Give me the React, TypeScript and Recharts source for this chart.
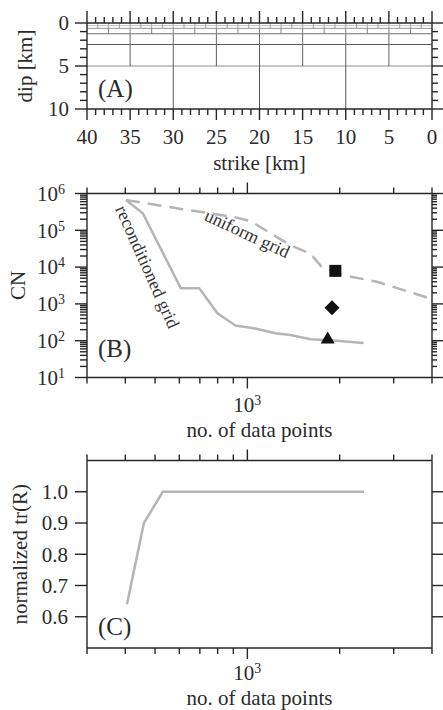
import React from 'react';
import { ComposedChart, Line, Scatter, XAxis, YAxis } from 'recharts';

const FONT = '"Liberation Serif", "Times New Roman", serif';
const INK = '#262626';
const TEXT = '#2b2b2b';
const CURVE = '#b5b5b5';

// (A) fault mesh: row boundaries in depth, and the patch width used in each row
const meshDepths = [0, 0.3125, 0.625, 1.25, 2.5, 5, 10];
const meshPatchWidths = [1.25, 1.25, 2.5, 5, 5, 10];
const strikeLength = 40;
const strikeMajorTicks = [0, 5, 10, 15, 20, 25, 30, 35, 40];
const dipMajorTicks = [0, 5, 10];

// (B) condition number vs. number of data points
const uniformPoints = [402, 607, 904, 1025, 1383, 1607, 1753, 2061, 2646, 4000];
const uniformCN = [6.7e5, 3.8e5, 2.3e5, 1.77e5, 3.9e4, 2.3e4, 9.8e3, 6.0e3, 4.0e3, 1.35e3];
const reconPoints = [402, 456, 607, 697, 799, 916, 1051, 1236, 1383, 1607, 1820, 2393];
const reconCN = [6.7e5, 2.9e5, 2.65e3, 2.65e3, 556, 256, 217, 159, 143, 109, 104, 86];
const markerPoints = [1936, 1888, 1828];
const markerCN = [7900, 790, 115];
const markerKinds = ['square', 'diamond', 'triangle'];
const noteTexts = ['uniform grid', 'reconditioned grid'];
const notePoints = [1000, 473];
const noteCN = [8.3e4, 1.03e4];

// (C) normalized trace of the resolution matrix
const tracePoints = [405, 460, 530, 2400];
const traceR = [0.64, 0.9, 1.0, 1.0];

const pointTicks = [300, 400, 500, 600, 700, 800, 900, 1000, 2000, 3000, 4000];
const pointMajorTicks = [1000];
const cnMajorTicks = [10, 100, 1e3, 1e4, 1e5, 1e6];
const traceTicks = [0.6, 0.7, 0.8, 0.9, 1.0];

const intRange = (a: number, b: number) => Array.from({ length: b - a + 1 }, (_, i) => a + i);
const strikeTicks = intRange(0, strikeLength);
const dipTicks = intRange(0, 10);
const cnTicks = cnMajorTicks.flatMap((m, i) =>
  i === cnMajorTicks.length - 1 ? [m] : intRange(1, 9).map((k) => k * m),
);

const uniformData = uniformPoints.map((n, i) => ({ n, cn: uniformCN[i] }));
const reconData = reconPoints.map((n, i) => ({ n, cn: reconCN[i] }));
const traceData = tracePoints.map((n, i) => ({ n, r: traceR[i] }));

const meshRows = meshPatchWidths.map((w, i) => ({ w, top: meshDepths[i], bottom: meshDepths[i + 1] }));
const meshHorizontal = meshDepths.slice(1, -1).map((d) => [
  { s: 0, d },
  { s: strikeLength, d },
]);
const meshVertical = meshRows.map((row) =>
  intRange(1, Math.round(strikeLength / row.w) - 1).map((k) => [
    { s: k * row.w, d: row.top },
    { s: k * row.w, d: row.bottom },
  ]),
);

const meshRowStroke = ['#a8a8a8', '#a0a0a0', '#808080', '#6a6a6a', '#606060', '#555'];
const meshDepthStroke = ['#c4c4c4', '#999', '#707070', '#5a5a5a', '#b4b4b4'];

const axisLine = { stroke: INK, strokeWidth: 1.4 };
const TICK_W = 1.4;

const isIn = (list: number[], v: number) =>
  list.some((m) => Math.abs(m - v) <= Math.abs(m) * 1e-6 + 1e-9);

interface TickOpts {
  side: 'top' | 'bottom' | 'left' | 'right';
  majors: number[];
  label?: (v: number) => React.ReactNode;
  majorLen?: number;
  minorLen?: number;
  offset?: number;
}

// tick marks are drawn as thin filled rects (plain strokes were dropped on the y axes)
function makeTick({ side, majors, label, majorLen = 11, minorLen = 6, offset = 0 }: TickOpts) {
  return function Tick(props: any) {
    const x = Number(props.x);
    const y = Number(props.y);
    const v = Number(props.payload?.value);
    const major = isIn(majors, v);
    const len = major ? majorLen : minorLen;
    let mark: React.ReactNode;
    if (side === 'left') mark = <rect x={x - len} y={y - TICK_W / 2} width={len} height={TICK_W} fill={INK} />;
    else if (side === 'right') mark = <rect x={x} y={y - TICK_W / 2} width={len} height={TICK_W} fill={INK} />;
    else if (side === 'top') mark = <rect x={x - TICK_W / 2} y={y - len} width={TICK_W} height={len} fill={INK} />;
    else mark = <rect x={x - TICK_W / 2} y={y} width={TICK_W} height={len} fill={INK} />;

    let text: React.ReactNode = null;
    if (major && label) {
      if (side === 'bottom') {
        text = (
          <text x={x} y={y + offset} textAnchor="middle" fontSize={21} fontFamily={FONT} fill={TEXT}>
            {label(v)}
          </text>
        );
      } else if (side === 'left') {
        text = (
          <text x={x - offset} y={y} dy="0.35em" textAnchor="end" fontSize={21} fontFamily={FONT} fill={TEXT}>
            {label(v)}
          </text>
        );
      }
    }
    return (
      <g>
        {mark}
        {text}
      </g>
    );
  };
}

const pow10 = (v: number) => (
  <>
    <tspan>10</tspan>
    <tspan dy="-0.5em" fontSize={14}>
      {Math.round(Math.log10(v))}
    </tspan>
  </>
);

function xTitle(text: string, below: number) {
  return (props: any) => {
    const vb = props.viewBox ?? { x: 87, y: 0, width: 345, height: 0 };
    return (
      <text x={vb.x + vb.width / 2} y={vb.y + below} textAnchor="middle" fontSize={21} fontFamily={FONT} fill={TEXT}>
        {text}
      </text>
    );
  };
}

function yTitle(text: string, baseX: number, tag: string, tagUp: number) {
  return (props: any) => {
    const vb = props.viewBox ?? { x: 0, y: 0, width: 87, height: 0 };
    const cy = vb.y + vb.height / 2;
    return (
      <g>
        <text
          x={baseX}
          y={cy}
          textAnchor="middle"
          transform={`rotate(-90 ${baseX} ${cy})`}
          fontSize={21}
          fontFamily={FONT}
          fill={TEXT}
        >
          {text}
        </text>
        <text x={vb.x + vb.width + 11} y={vb.y + vb.height - tagUp} fontSize={25} fontFamily={FONT} fill={TEXT}>
          {tag}
        </text>
      </g>
    );
  };
}

const markerShape = (kind: string) => (p: any) => {
  const { cx, cy } = p;
  if (kind === 'square') return <rect x={cx - 6} y={cy - 6} width={12} height={12} fill="#111" />;
  if (kind === 'diamond')
    return <polygon points={`${cx},${cy - 7.5} ${cx + 7.5},${cy} ${cx},${cy + 7.5} ${cx - 7.5},${cy}`} fill="#111" />;
  return <polygon points={`${cx},${cy - 7} ${cx + 7},${cy + 5} ${cx - 7},${cy + 5}`} fill="#111" />;
};

const noteShape = (text: string, angle: number) => (p: any) => (
  <text
    x={p.cx}
    y={p.cy}
    dy="0.35em"
    textAnchor="middle"
    transform={`rotate(${angle} ${p.cx} ${p.cy})`}
    fontSize={18}
    fontFamily={FONT}
    fill="#333"
  >
    {text}
  </text>
);

// shared axis props: ticks are drawn entirely by makeTick
const bare = { interval: 0 as const, tickSize: 0, tickMargin: 0, tickLine: false, axisLine, allowDataOverflow: true };

function MeshPanel() {
  return (
    <ComposedChart
      width={443}
      height={180}
      margin={{ top: 0, right: 0, bottom: 0, left: 0 }}
      data={meshHorizontal.flat()}
    >
      <XAxis
        xAxisId="b"
        dataKey="s"
        type="number"
        domain={[0, strikeLength]}
        reversed
        ticks={strikeTicks}
        {...bare}
        height={71}
        tick={makeTick({ side: 'bottom', majors: strikeMajorTicks, label: (v) => v, offset: 35 })}
        label={xTitle('strike [km]', 61)}
      />
      <XAxis
        xAxisId="t"
        orientation="top"
        dataKey="s"
        type="number"
        domain={[0, strikeLength]}
        reversed
        ticks={strikeTicks}
        {...bare}
        height={23}
        tick={makeTick({ side: 'top', majors: strikeMajorTicks, majorLen: 12 })}
      />
      <YAxis
        yAxisId="l"
        dataKey="d"
        type="number"
        domain={[0, 10]}
        reversed
        ticks={dipTicks}
        {...bare}
        width={87}
        tick={makeTick({ side: 'left', majors: dipMajorTicks, label: (v) => v, offset: 18, majorLen: 12, minorLen: 7 })}
        label={yTitle('dip [km]', 32, '(A)', 12)}
      />
      <YAxis
        yAxisId="r"
        orientation="right"
        dataKey="d"
        type="number"
        domain={[0, 10]}
        reversed
        ticks={dipTicks}
        {...bare}
        width={11}
        tick={makeTick({ side: 'right', majors: dipMajorTicks, majorLen: 11, minorLen: 6 })}
      />
      {meshHorizontal.map((seg, i) => (
        <Line
          key={`h${i}`}
          xAxisId="b"
          yAxisId="l"
          data={seg}
          dataKey="d"
          type="linear"
          stroke={meshDepthStroke[i]}
          strokeWidth={seg[0].d === 5 ? 1.6 : 1}
          dot={false}
          isAnimationActive={false}
        />
      ))}
      {meshVertical.flatMap((row, ri) =>
        row.map((seg, k) => (
          <Line
            key={`v${ri}-${k}`}
            xAxisId="t"
            yAxisId="r"
            data={seg}
            dataKey="d"
            type="linear"
            stroke={meshRowStroke[ri]}
            strokeWidth={1}
            dot={false}
            isAnimationActive={false}
          />
        )),
      )}
    </ComposedChart>
  );
}

function ConditionPanel() {
  return (
    <ComposedChart width={443} height={265} margin={{ top: 0, right: 0, bottom: 0, left: 0 }} data={reconData}>
      <XAxis
        xAxisId="b"
        dataKey="n"
        type="number"
        scale="log"
        domain={[300, 4000]}
        ticks={pointTicks}
        {...bare}
        height={67.5}
        tick={makeTick({ side: 'bottom', majors: pointMajorTicks, label: pow10, offset: 34 })}
        label={xTitle('no. of data points', 59.5)}
      />
      <XAxis
        xAxisId="t"
        orientation="top"
        dataKey="n"
        type="number"
        scale="log"
        domain={[300, 4000]}
        ticks={pointTicks}
        {...bare}
        height={13.5}
        tick={makeTick({ side: 'top', majors: pointMajorTicks })}
      />
      <YAxis
        yAxisId="l"
        dataKey="cn"
        type="number"
        scale="log"
        domain={[10, 1e6]}
        ticks={cnTicks}
        {...bare}
        width={87}
        tick={makeTick({ side: 'left', majors: cnMajorTicks, label: pow10, offset: 22, majorLen: 12, minorLen: 7 })}
        label={yTitle('CN', 25, '(B)', 20.5)}
      />
      <YAxis
        yAxisId="r"
        orientation="right"
        dataKey="cn"
        type="number"
        scale="log"
        domain={[10, 1e6]}
        ticks={cnTicks}
        {...bare}
        width={11}
        tick={makeTick({ side: 'right', majors: cnMajorTicks, majorLen: 11, minorLen: 5 })}
      />
      <Line
        xAxisId="b"
        yAxisId="l"
        data={uniformData}
        dataKey="cn"
        type="linear"
        stroke={CURVE}
        strokeWidth={2.5}
        strokeDasharray="14 8"
        dot={false}
        isAnimationActive={false}
      />
      <Line
        xAxisId="b"
        yAxisId="l"
        data={reconData}
        dataKey="cn"
        type="linear"
        stroke={CURVE}
        strokeWidth={2.5}
        dot={false}
        isAnimationActive={false}
      />
      {markerKinds.map((kind, i) => (
        <Scatter
          key={kind}
          xAxisId="t"
          yAxisId="r"
          data={[{ n: markerPoints[i], cn: markerCN[i] }]}
          shape={markerShape(kind)}
          isAnimationActive={false}
        />
      ))}
      {noteTexts.map((t, i) => (
        <Scatter
          key={t}
          xAxisId="t"
          yAxisId="r"
          data={[{ n: notePoints[i], cn: noteCN[i] }]}
          shape={noteShape(t, i === 0 ? 25 : 66)}
          isAnimationActive={false}
        />
      ))}
    </ComposedChart>
  );
}

function TracePanel() {
  return (
    <ComposedChart width={443} height={270} margin={{ top: 0, right: 0, bottom: 0, left: 0 }} data={traceData}>
      <XAxis
        xAxisId="b"
        dataKey="n"
        type="number"
        scale="log"
        domain={[300, 4000]}
        ticks={pointTicks}
        {...bare}
        height={62}
        tick={makeTick({ side: 'bottom', majors: pointMajorTicks, label: pow10, offset: 32 })}
        label={xTitle('no. of data points', 57)}
      />
      <XAxis
        xAxisId="t"
        orientation="top"
        dataKey="n"
        type="number"
        scale="log"
        domain={[300, 4000]}
        ticks={pointTicks}
        {...bare}
        height={20.5}
        tick={makeTick({ side: 'top', majors: pointMajorTicks })}
      />
      <YAxis
        yAxisId="l"
        dataKey="r"
        type="number"
        domain={[0.5, 1.1]}
        ticks={traceTicks}
        {...bare}
        width={87}
        tick={makeTick({ side: 'left', majors: traceTicks, label: (v) => v.toFixed(1), offset: 19, majorLen: 12 })}
        label={yTitle('normalized tr(R)', 27, '(C)', 13)}
      />
      <YAxis
        yAxisId="r"
        orientation="right"
        dataKey="r"
        type="number"
        domain={[0.5, 1.1]}
        ticks={traceTicks}
        {...bare}
        width={11}
        tick={makeTick({ side: 'right', majors: traceTicks, majorLen: 11 })}
      />
      <Line
        xAxisId="b"
        yAxisId="l"
        data={traceData}
        dataKey="r"
        type="linear"
        stroke={CURVE}
        strokeWidth={2.5}
        dot={false}
        isAnimationActive={false}
      />
    </ComposedChart>
  );
}

export default function App() {
  return (
    <div style={{ position: 'absolute', left: 0, top: 0, width: 443, height: 710, background: '#fff' }}>
      <div style={{ position: 'absolute', left: 0, top: 0 }}>
        <MeshPanel />
      </div>
      <div style={{ position: 'absolute', left: 0, top: 180 }}>
        <ConditionPanel />
      </div>
      <div style={{ position: 'absolute', left: 0, top: 440 }}>
        <TracePanel />
      </div>
    </div>
  );
}
